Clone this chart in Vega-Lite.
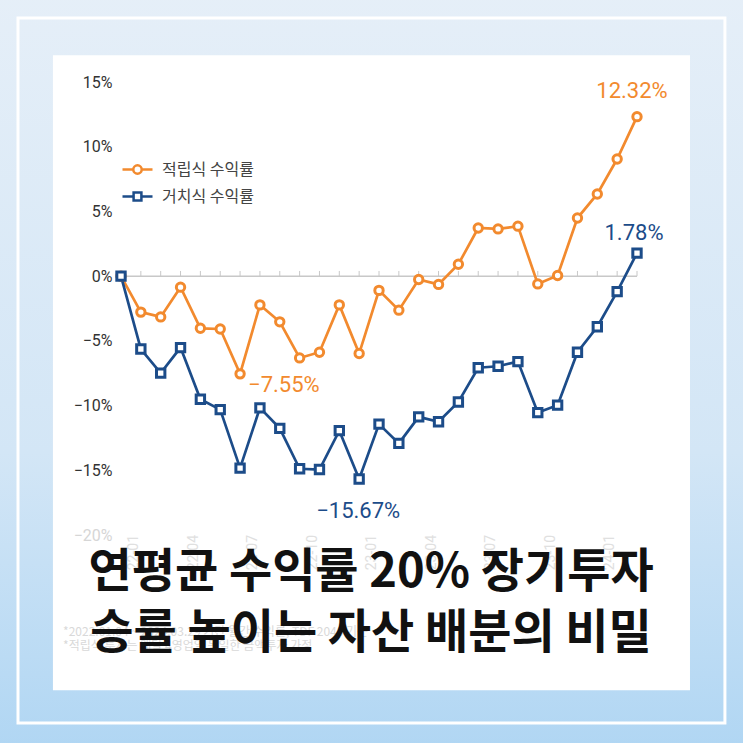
{
  "$schema": "https://vega.github.io/schema/vega-lite/v6.json",
  "autosize": {"type": "none"},
  "width": 516,
  "height": 453,
  "padding": {"left": 121, "top": 82, "right": 106, "bottom": 208},
  "background": "#d9e9f7",
  "config": {"view": {"stroke": null}, "font": "Roboto"},
  "data": {"values": [
    {"m":0,"s":"적립식 수익률","v":0},{"m":1,"s":"적립식 수익률","v":-0.0278},{"m":2,"s":"적립식 수익률","v":-0.0315},{"m":3,"s":"적립식 수익률","v":-0.0085},{"m":4,"s":"적립식 수익률","v":-0.0403},{"m":5,"s":"적립식 수익률","v":-0.0408},{"m":6,"s":"적립식 수익률","v":-0.0755},{"m":7,"s":"적립식 수익률","v":-0.0222},{"m":8,"s":"적립식 수익률","v":-0.0353},{"m":9,"s":"적립식 수익률","v":-0.0632},{"m":10,"s":"적립식 수익률","v":-0.0588},{"m":11,"s":"적립식 수익률","v":-0.0222},{"m":12,"s":"적립식 수익률","v":-0.0598},{"m":13,"s":"적립식 수익률","v":-0.011},{"m":14,"s":"적립식 수익률","v":-0.0263},{"m":15,"s":"적립식 수익률","v":-0.0026},{"m":16,"s":"적립식 수익률","v":-0.0064},{"m":17,"s":"적립식 수익률","v":0.0092},{"m":18,"s":"적립식 수익률","v":0.0372},{"m":19,"s":"적립식 수익률","v":0.0365},{"m":20,"s":"적립식 수익률","v":0.0386},{"m":21,"s":"적립식 수익률","v":-0.006},{"m":22,"s":"적립식 수익률","v":0.0005},{"m":23,"s":"적립식 수익률","v":0.0449},{"m":24,"s":"적립식 수익률","v":0.0635},{"m":25,"s":"적립식 수익률","v":0.0905},{"m":26,"s":"적립식 수익률","v":0.1232},
    {"m":0,"s":"거치식 수익률","v":0},{"m":1,"s":"거치식 수익률","v":-0.0563},{"m":2,"s":"거치식 수익률","v":-0.0749},{"m":3,"s":"거치식 수익률","v":-0.0552},{"m":4,"s":"거치식 수익률","v":-0.0951},{"m":5,"s":"거치식 수익률","v":-0.1031},{"m":6,"s":"거치식 수익률","v":-0.1483},{"m":7,"s":"거치식 수익률","v":-0.1018},{"m":8,"s":"거치식 수익률","v":-0.1176},{"m":9,"s":"거치식 수익률","v":-0.1488},{"m":10,"s":"거치식 수익률","v":-0.1494},{"m":11,"s":"거치식 수익률","v":-0.1194},{"m":12,"s":"거치식 수익률","v":-0.1567},{"m":13,"s":"거치식 수익률","v":-0.1143},{"m":14,"s":"거치식 수익률","v":-0.1292},{"m":15,"s":"거치식 수익률","v":-0.1087},{"m":16,"s":"거치식 수익률","v":-0.1125},{"m":17,"s":"거치식 수익률","v":-0.0972},{"m":18,"s":"거치식 수익률","v":-0.0708},{"m":19,"s":"거치식 수익률","v":-0.0696},{"m":20,"s":"거치식 수익률","v":-0.066},{"m":21,"s":"거치식 수익률","v":-0.1054},{"m":22,"s":"거치식 수익률","v":-0.0997},{"m":23,"s":"거치식 수익률","v":-0.0588},{"m":24,"s":"거치식 수익률","v":-0.0391},{"m":25,"s":"거치식 수익률","v":-0.012},{"m":26,"s":"거치식 수익률","v":0.0178}
  ]},
  "layer": [
    {
      "data": {"values": [{}]},
      "mark": {"type": "rect", "fill": {"gradient": "linear", "x1": 0, "y1": 0, "x2": 0, "y2": 1, "stops": [{"offset": 0, "color": "#e6eff8"}, {"offset": 0.6, "color": "#d3e6f6"}, {"offset": 1, "color": "#aed5f3"}]}},
      "encoding": {
        "x": {"datum": -7, "type": "quantitative", "axis": null},
        "x2": {"datum": 33},
        "y": {"datum": 0.23, "type": "quantitative"},
        "y2": {"datum": -0.38}
      }
    },
    {
      "data": {"values": [{}]},
      "mark": {"type": "rect", "fill": null, "stroke": "white", "strokeWidth": 3},
      "encoding": {
        "x": {"datum": -5.19, "type": "quantitative", "axis": null},
        "x2": {"datum": 30.43},
        "y": {"datum": 0.1994, "type": "quantitative"},
        "y2": {"datum": -0.3453}
      }
    },
    {
      "data": {"values": [{}]},
      "mark": {"type": "rect", "fill": "white"},
      "encoding": {
        "x": {"datum": -3.43, "type": "quantitative", "axis": null},
        "x2": {"datum": 28.67},
        "y": {"datum": 0.1707, "type": "quantitative"},
        "y2": {"datum": -0.3199}
      }
    },
    {
      "data": {"values": [{}]},
      "mark": {"type": "rule", "color": "#c8c8c8", "strokeWidth": 1.5},
      "encoding": {
        "x": {"datum": 0, "type": "quantitative", "axis": null},
        "x2": {"datum": 26},
        "y": {"datum": 0, "type": "quantitative"}
      }
    },
    {
      "transform": [{"filter": "datum.s == '적립식 수익률'"}],
      "mark": {"type": "rule", "color": "#c8c8c8", "strokeWidth": 1},
      "encoding": {
        "x": {"field": "m", "type": "quantitative", "axis": null},
        "y": {"datum": 0, "type": "quantitative"},
        "y2": {"datum": 0.004}
      }
    },
    {
      "transform": [
        {"filter": "datum.s == '적립식 수익률' && datum.m % 3 == 0"},
        {"calculate": "(22 + floor(datum.m / 12)) + '-' + ((datum.m % 12) + 1 < 10 ? '0' : '') + ((datum.m % 12) + 1)", "as": "lbl"}
      ],
      "mark": {"type": "text", "angle": 270, "align": "right", "baseline": "middle", "font": "Roboto", "fontSize": 14, "color": "#e0e0e0", "dy": 13},
      "encoding": {
        "x": {"field": "m", "type": "quantitative", "axis": null},
        "y": {"datum": -0.2, "type": "quantitative"},
        "text": {"field": "lbl", "type": "nominal"}
      }
    },
    {
      "mark": {"type": "point", "opacity": 0, "filled": true, "fill": "white", "strokeWidth": 2.5, "size": 784},
      "encoding": {
        "x": {"field": "m", "type": "quantitative", "axis": null},
        "y": {"field": "v", "type": "quantitative"},
        "stroke": {"field": "s", "type": "nominal", "scale": {"domain": ["적립식 수익률", "거치식 수익률"], "range": ["#f28a2e", "#1c4c89"]},
          "legend": {"zindex": 1, "orient": "none", "legendX": 0, "legendY": 71, "title": null, "padding": 0, "rowPadding": 1, "labelFont": "Noto Sans CJK KR", "labelFontSize": 16, "labelColor": "#444444", "labelOffset": 8, "symbolSize": 900, "symbolStrokeWidth": 2.5, "symbolFillColor": "white"}},
        "shape": {"field": "s", "type": "nominal", "scale": {"domain": ["적립식 수익률", "거치식 수익률"], "range": ["M-1,0L-0.28,0M0.28,0L1,0M0.28,0A0.28,0.28 0 1 1 -0.28,0A0.28,0.28 0 1 1 0.28,0", "M-1,0L-0.26,0M0.26,0L1,0M-0.26,-0.26L0.26,-0.26L0.26,0.26L-0.26,0.26Z"]},
          "legend": {"zindex": 1, "orient": "none", "legendX": 0, "legendY": 71, "title": null, "padding": 0, "rowPadding": 1, "labelFont": "Noto Sans CJK KR", "labelFontSize": 16, "labelColor": "#444444", "labelOffset": 8, "symbolSize": 900, "symbolStrokeWidth": 2.5, "symbolFillColor": "white"}}
      }
    },
    {
      "mark": {"type": "line", "strokeWidth": 2.7},
      "encoding": {
        "x": {"field": "m", "type": "quantitative", "scale": {"domain": [0, 26], "nice": false, "zero": false}, "axis": null},
        "y": {"field": "v", "type": "quantitative", "scale": {"domain": [-0.2, 0.15], "nice": false, "zero": false},
          "axis": {"zindex": 1, "values": [-0.2, -0.15, -0.1, -0.05, 0, 0.05, 0.1, 0.15], "format": ".0%", "domain": false, "ticks": false, "grid": false, "title": null, "labelPadding": 9, "labelFontSize": 16, "labelFont": "Roboto", "labelColor": {"condition": {"test": "datum.value < -0.19", "value": "#d6d6d6"}, "value": "#333333"}}},
        "stroke": {"field": "s", "type": "nominal", "scale": {"domain": ["적립식 수익률", "거치식 수익률"], "range": ["#f28a2e", "#1c4c89"]},
          "legend": {"zindex": 1, "orient": "none", "legendX": 0, "legendY": 71, "title": null, "padding": 0, "rowPadding": 1, "labelFont": "Noto Sans CJK KR", "labelFontSize": 16, "labelColor": "#444444", "labelOffset": 8, "symbolSize": 900, "symbolStrokeWidth": 2.5, "symbolFillColor": "white"}}
      }
    },
    {
      "transform": [{"filter": "datum.s == '적립식 수익률'"}],
      "mark": {"type": "point", "shape": "circle", "filled": true, "fill": "white", "stroke": "#f28a2e", "strokeWidth": 3, "size": 70, "opacity": 1},
      "encoding": {
        "x": {"field": "m", "type": "quantitative", "axis": null},
        "y": {"field": "v", "type": "quantitative"}
      }
    },
    {
      "transform": [{"filter": "datum.s == '거치식 수익률'"}],
      "mark": {"type": "point", "shape": "square", "filled": true, "fill": "white", "stroke": "#1c4c89", "strokeWidth": 3, "size": 70, "opacity": 1},
      "encoding": {
        "x": {"field": "m", "type": "quantitative", "axis": null},
        "y": {"field": "v", "type": "quantitative"}
      }
    },
    {
      "transform": [{"filter": "datum.m == 26 && datum.s == '적립식 수익률'"}],
      "mark": {"type": "text", "font": "Roboto", "fontSize": 22, "color": "#f28a2e", "align": "center", "baseline": "alphabetic", "dx": -5, "dy": -19},
      "encoding": {"x": {"field": "m", "type": "quantitative", "axis": null}, "y": {"field": "v", "type": "quantitative"}, "text": {"field": "v", "type": "quantitative", "format": ".2%"}}
    },
    {
      "transform": [{"filter": "datum.m == 26 && datum.s == '거치식 수익률'"}],
      "mark": {"type": "text", "font": "Roboto", "fontSize": 22, "color": "#1c4c89", "align": "center", "baseline": "alphabetic", "dx": -3, "dy": -13},
      "encoding": {"x": {"field": "m", "type": "quantitative", "axis": null}, "y": {"field": "v", "type": "quantitative"}, "text": {"field": "v", "type": "quantitative", "format": ".2%"}}
    },
    {
      "transform": [{"filter": "datum.m == 6 && datum.s == '적립식 수익률'"}],
      "mark": {"type": "text", "font": "Roboto", "fontSize": 22, "color": "#f28a2e", "align": "left", "baseline": "alphabetic", "dx": 8, "dy": 18},
      "encoding": {"x": {"field": "m", "type": "quantitative", "axis": null}, "y": {"field": "v", "type": "quantitative"}, "text": {"field": "v", "type": "quantitative", "format": ".2%"}}
    },
    {
      "transform": [{"filter": "datum.m == 12 && datum.s == '거치식 수익률'"}],
      "mark": {"type": "text", "font": "Roboto", "fontSize": 22, "color": "#1c4c89", "align": "center", "baseline": "alphabetic", "dx": -1, "dy": 39},
      "encoding": {"x": {"field": "m", "type": "quantitative", "axis": null}, "y": {"field": "v", "type": "quantitative"}, "text": {"field": "v", "type": "quantitative", "format": ".2%"}}
    },
    {
      "data": {"values": [{}]},
      "mark": {"type": "text", "text": "*2022.01.04 ~ 2024.03.29 기간 월간 수익률, TDF 2040 기준", "font": "Noto Sans CJK KR", "fontSize": 12, "color": "#d9d9d9", "align": "left", "baseline": "middle"},
      "encoding": {"x": {"datum": -2.92, "type": "quantitative", "axis": null}, "y": {"datum": -0.275, "type": "quantitative"}}
    },
    {
      "data": {"values": [{}]},
      "mark": {"type": "text", "text": "*적립식 투자는 매달 4영업일 동일한 금액투자 가정", "font": "Noto Sans CJK KR", "fontSize": 12, "color": "#d9d9d9", "align": "left", "baseline": "middle"},
      "encoding": {"x": {"datum": -2.92, "type": "quantitative", "axis": null}, "y": {"datum": -0.2858, "type": "quantitative"}}
    },
    {
      "data": {"values": [{}]},
      "mark": {"type": "text", "text": "연평균  수익률 20% 장기투자", "font": "Noto Sans CJK KR", "fontSize": 47, "fontWeight": "bold", "color": "#111111", "align": "center", "baseline": "middle"},
      "encoding": {"x": {"datum": 12.6, "type": "quantitative", "axis": null}, "y": {"datum": -0.2294, "type": "quantitative"}}
    },
    {
      "data": {"values": [{}]},
      "mark": {"type": "text", "text": "승률 높이는 자산 배분의 비밀", "font": "Noto Sans CJK KR", "fontSize": 47, "fontWeight": "bold", "color": "#111111", "align": "center", "baseline": "middle"},
      "encoding": {"x": {"datum": 12.6, "type": "quantitative", "axis": null}, "y": {"datum": -0.2765, "type": "quantitative"}}
    }
  ]
}
